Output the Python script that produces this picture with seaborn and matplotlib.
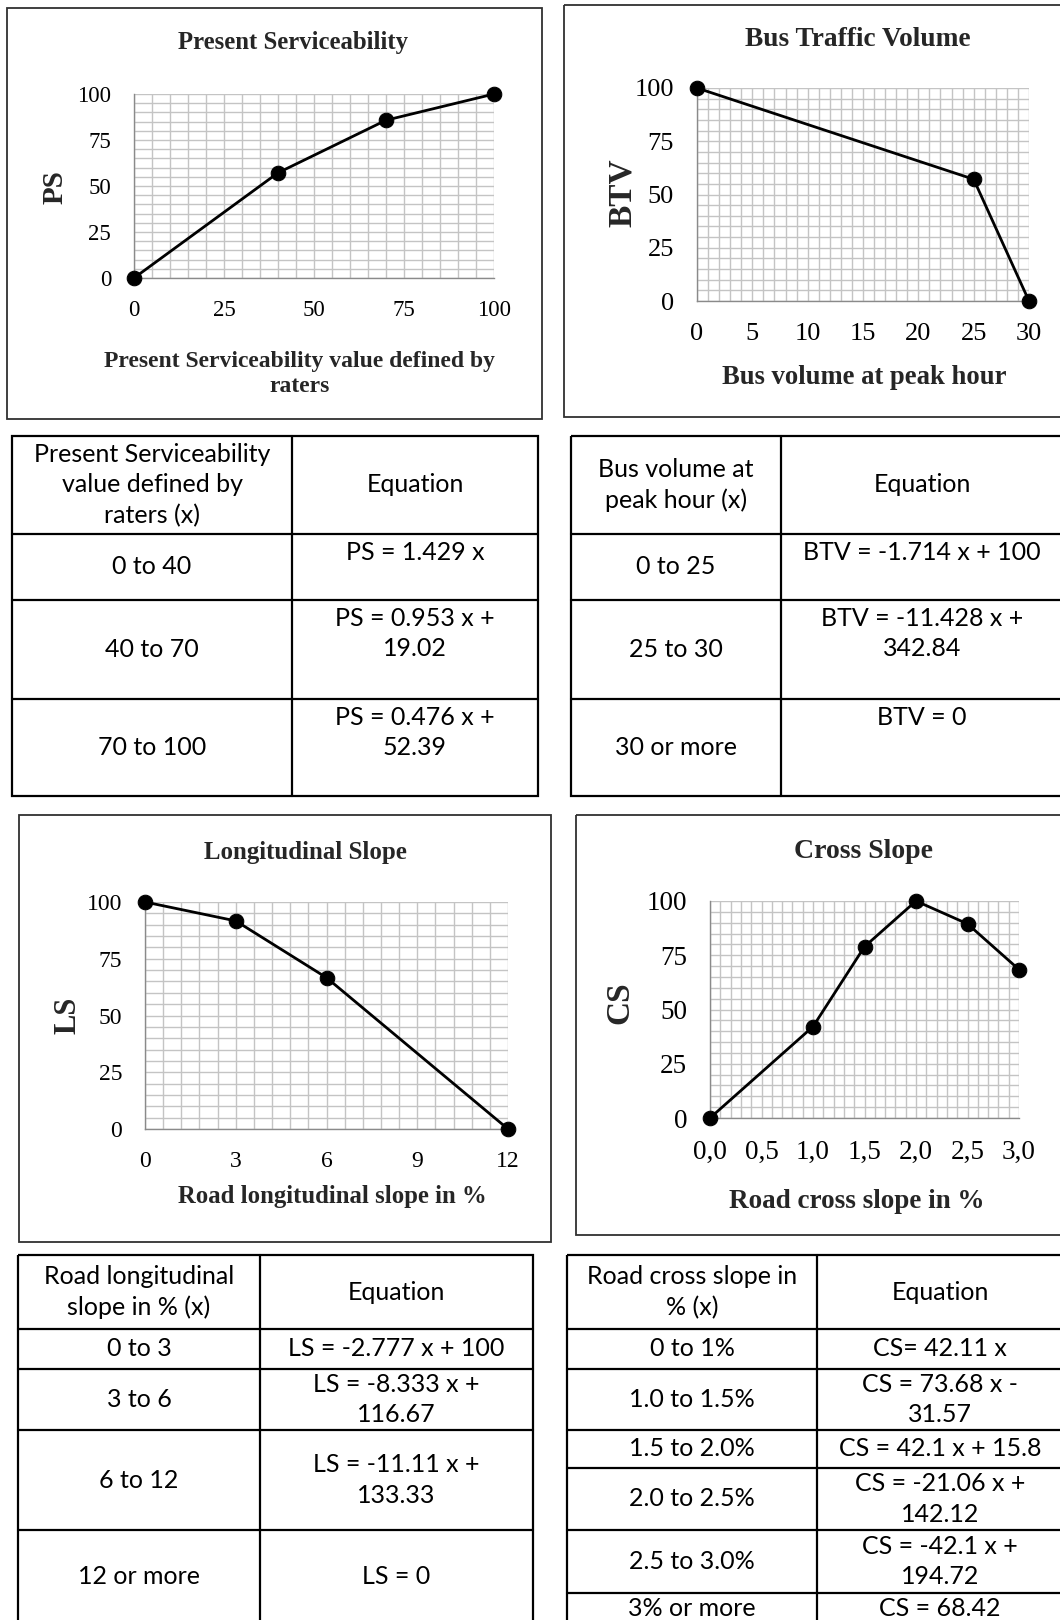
import numpy as np
import pandas as pd
import matplotlib.pyplot as plt
import seaborn as sns
from matplotlib.patches import Rectangle
from matplotlib.ticker import MultipleLocator

# chart values (break points of each piecewise-linear scale)
ps_x = [0, 40, 70, 100]
ps_y = [0, 57.16, 85.75, 100]

btv_x = [0, 25, 30]
btv_y = [100, 57.15, 0]

ls_x = [0, 3, 6, 12]
ls_y = [100, 91.67, 66.67, 0]

cs_x = [0.0, 1.0, 1.5, 2.0, 2.5, 3.0]
cs_y = [0, 42.11, 78.95, 100, 89.47, 68.42]
cs_ticks = [0.0, 0.5, 1.0, 1.5, 2.0, 2.5, 3.0]
cs_ticklabels = ["0,0", "0,5", "1,0", "1,5", "2,0", "2,5", "3,0"]

# table contents
ps_header = ["Present Serviceability\nvalue defined by\nraters (x)", "Equation"]
ps_ranges = ["0 to 40", "40 to 70", "70 to 100"]
ps_equations = ["PS = 1.429 x", "PS = 0.953 x +\n19.02", "PS = 0.476 x +\n52.39"]

btv_header = ["Bus volume at\npeak hour (x)", "Equation"]
btv_ranges = ["0 to 25", "25 to 30", "30 or more"]
btv_equations = ["BTV = -1.714 x + 100", "BTV = -11.428 x +\n342.84", "BTV = 0"]

ls_header = ["Road longitudinal\nslope in % (x)", "Equation"]
ls_ranges = ["0 to 3", "3 to 6", "6 to 12", "12 or more"]
ls_equations = ["LS = -2.777 x + 100", "LS = -8.333 x +\n116.67",
                "LS = -11.11 x +\n133.33", "LS = 0"]

cs_header = ["Road cross slope in\n% (x)", "Equation"]
cs_ranges = ["0 to 1%", "1.0 to 1.5%", "1.5 to 2.0%", "2.0 to 2.5%",
             "2.5 to 3.0%", "3% or more"]
cs_equations = ["CS= 42.11 x", "CS = 73.68 x -\n31.57", "CS = 42.1 x + 15.8",
                "CS = -21.06 x +\n142.12", "CS = -42.1 x +\n194.72", "CS = 68.42"]

# style
sns.set_theme(style='white')
plt.rcParams['font.family'] = ['Liberation Serif', 'DejaVu Serif']
TABLE_FONT = ['Lato', 'DejaVu Sans']
GRID = '#c4c4c4'
AXIS = '#8a8a8a'

W, H = 1060, 1620
fig = plt.figure(figsize=(W / 100, H / 100), dpi=100)
fig.patch.set_facecolor('white')

# background axes in pixel coordinates for boxes, titles and tables
bg = fig.add_axes([0, 0, 1, 1])
bg.set_xlim(0, W)
bg.set_ylim(H, 0)
bg.axis('off')


def px_axes(left, top, right, bottom):
    return fig.add_axes([left / W, 1 - bottom / H, (right - left) / W, (bottom - top) / H])


def draw_chart(x, y, box, area, xmax, xmajor, xminor, title, xlabel, ylabel,
               title_pos, xlabel_pos, ylabel_pos, fs_title, fs_label, fs_ylabel,
               fs_tick, xticks=None):
    bg.add_patch(Rectangle((box[0], box[1]), box[2] - box[0], box[3] - box[1],
                           fill=False, ec='#303030', lw=1.3))
    ax = px_axes(*area)
    sns.lineplot(x=x, y=y, ax=ax, color='black', linewidth=2.0, marker='o',
                 markersize=10.5, markeredgecolor='black', clip_on=False, zorder=5)
    ax.set_xlim(0, xmax)
    ax.set_ylim(0, 100)
    ax.xaxis.set_major_locator(MultipleLocator(xmajor))
    ax.xaxis.set_minor_locator(MultipleLocator(xminor))
    ax.yaxis.set_major_locator(MultipleLocator(25))
    ax.yaxis.set_minor_locator(MultipleLocator(5))
    if xticks is not None:
        ax.set_xticks(xticks[0], xticks[1])
    ax.grid(which='both', color=GRID, lw=1.0)
    ax.set_axisbelow(True)
    for s in ['top', 'right']:
        ax.spines[s].set_visible(False)
    for s in ['left', 'bottom']:
        ax.spines[s].set_color(AXIS)
        ax.spines[s].set_linewidth(1.0)
    ax.tick_params(which='major', direction='out', length=5.5, width=1.0,
                   color=AXIS, labelsize=fs_tick, labelcolor='black')
    ax.tick_params(axis='x', pad=10)
    ax.tick_params(axis='y', pad=11)
    ax.tick_params(which='minor', length=0)
    ax.set_xlabel('')
    ax.set_ylabel('')
    ax.set_facecolor('white')

    bg.text(title_pos[0], title_pos[1], title, ha='center', va='center',
            fontsize=fs_title, fontweight='bold')
    bg.text(xlabel_pos[0], xlabel_pos[1], xlabel, ha='center', va='center',
            fontsize=fs_label, fontweight='bold', linespacing=1.2)
    bg.text(ylabel_pos[0], ylabel_pos[1], ylabel, ha='center', va='center',
            fontsize=fs_ylabel, fontweight='bold', rotation=90)
    return ax


def draw_table(left, mid, right, rows, header, ranges, equations, eq_top=False):
    lw = 1.6
    bg.add_patch(Rectangle((left, rows[0]), right - left, rows[-1] - rows[0],
                           fill=False, ec='black', lw=lw))
    bg.plot([mid, mid], [rows[0], rows[-1]], color='black', lw=lw)
    for r in rows[1:-1]:
        bg.plot([left, right], [r, r], color='black', lw=lw)

    kw = dict(fontsize=18, family=TABLE_FONT, linespacing=1.38, color='black')
    c1 = (left + mid) / 2
    c2 = (mid + right) / 2
    bg.text(c1, (rows[0] + rows[1]) / 2, header[0], ha='center', va='center', **kw)
    bg.text(c2, (rows[0] + rows[1]) / 2, header[1], ha='center', va='center', **kw)
    for i, (rng, eq) in enumerate(zip(ranges, equations)):
        top, bot = rows[i + 1], rows[i + 2]
        bg.text(c1, (top + bot) / 2, rng, ha='center', va='center', **kw)
        if eq_top:
            bg.text(c2, top + 7, eq, ha='center', va='top', **kw)
        else:
            bg.text(c2, (top + bot) / 2, eq, ha='center', va='center', **kw)


# charts
draw_chart(ps_x, ps_y, box=(7, 8, 542, 419), area=(134, 94, 494, 278),
           xmax=100, xmajor=25, xminor=5, title='Present Serviceability',
           xlabel='Present Serviceability value defined by\nraters', ylabel='PS',
           title_pos=(293, 43), xlabel_pos=(300, 374), ylabel_pos=(55, 187),
           fs_title=17.8, fs_label=17, fs_ylabel=21, fs_tick=16.5)

draw_chart(btv_x, btv_y, box=(564, 5, 1064, 417), area=(697, 88, 1029, 301),
           xmax=30, xmajor=5, xminor=1, title='Bus Traffic Volume',
           xlabel='Bus volume at peak hour', ylabel='BTV',
           title_pos=(858, 40), xlabel_pos=(864, 377), ylabel_pos=(622, 193),
           fs_title=19.7, fs_label=19.2, fs_ylabel=24, fs_tick=19)

draw_chart(ls_x, ls_y, box=(19, 815, 551, 1242), area=(145, 902, 508, 1129),
           xmax=12, xmajor=3, xminor=0.6, title='Longitudinal Slope',
           xlabel='Road longitudinal slope in %', ylabel='LS',
           title_pos=(305, 852), xlabel_pos=(332, 1197), ylabel_pos=(68, 1015),
           fs_title=17.9, fs_label=17.8, fs_ylabel=22, fs_tick=17)

draw_chart(cs_x, cs_y, box=(576, 815, 1064, 1235), area=(710, 901, 1019, 1118),
           xmax=3.0, xmajor=0.5, xminor=0.1, title='Cross Slope',
           xlabel='Road cross slope in %', ylabel='CS',
           title_pos=(864, 852), xlabel_pos=(857, 1202), ylabel_pos=(620, 1003),
           fs_title=20, fs_label=19.5, fs_ylabel=24, fs_tick=19.5,
           xticks=(cs_ticks, cs_ticklabels))

# tables
draw_table(12, 292, 538, [436, 534, 600, 699, 796],
           ps_header, ps_ranges, ps_equations, eq_top=True)
draw_table(571, 781, 1063, [436, 534, 600, 699, 796],
           btv_header, btv_ranges, btv_equations, eq_top=True)
draw_table(18, 260, 533, [1255, 1329, 1369, 1430, 1530, 1624],
           ls_header, ls_ranges, ls_equations)
draw_table(567, 817, 1063, [1255, 1329, 1369, 1430, 1468, 1530, 1593, 1624],
           cs_header, cs_ranges, cs_equations)

fig.savefig('out.png', dpi=100)
